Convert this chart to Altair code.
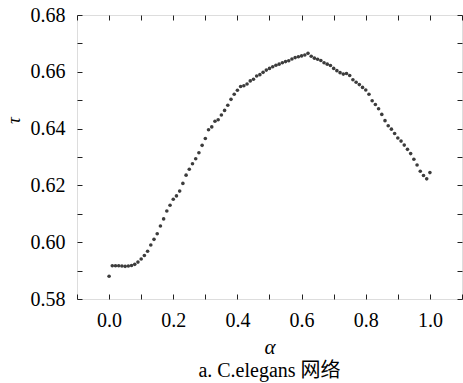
import altair as alt
import pandas as pd

alpha = [0.00, 0.01, 0.02, 0.03, 0.04, 0.05, 0.06, 0.07, 0.08, 0.09,
         0.10, 0.11, 0.12, 0.13, 0.14, 0.15, 0.16, 0.17, 0.18, 0.19,
         0.20, 0.21, 0.22, 0.23, 0.24, 0.25, 0.26, 0.27, 0.28, 0.29,
         0.30, 0.31, 0.32, 0.33, 0.34, 0.35, 0.36, 0.37, 0.38, 0.39,
         0.40, 0.41, 0.42, 0.43, 0.44, 0.45, 0.46, 0.47, 0.48, 0.49,
         0.50, 0.51, 0.52, 0.53, 0.54, 0.55, 0.56, 0.57, 0.58, 0.59,
         0.60, 0.61, 0.62, 0.63, 0.64, 0.65, 0.66, 0.67, 0.68, 0.69,
         0.70, 0.71, 0.72, 0.73, 0.74, 0.75, 0.76, 0.77, 0.78, 0.79,
         0.80, 0.81, 0.82, 0.83, 0.84, 0.85, 0.86, 0.87, 0.88, 0.89,
         0.90, 0.91, 0.92, 0.93, 0.94, 0.95, 0.96, 0.97, 0.98, 0.99, 1.00]

tau = [0.5880, 0.5917, 0.5917, 0.5917, 0.5916, 0.5915, 0.5916, 0.5918, 0.5922, 0.5930,
       0.5941, 0.5953, 0.5968, 0.5990, 0.6010, 0.6030, 0.6057, 0.6082, 0.6110, 0.6130,
       0.6151, 0.6163, 0.6180, 0.6207, 0.6236, 0.6257, 0.6276, 0.6294, 0.6315, 0.6341,
       0.6365, 0.6396, 0.6406, 0.6426, 0.6431, 0.6448, 0.6464, 0.6482, 0.6503, 0.6521,
       0.6535, 0.6548, 0.6551, 0.6557, 0.6568, 0.6574, 0.6585, 0.6590, 0.6598, 0.6606,
       0.6612, 0.6618, 0.6623, 0.6627, 0.6632, 0.6636, 0.6639, 0.6645, 0.6650, 0.6653,
       0.6656, 0.6659, 0.6665, 0.6655, 0.6648, 0.6644, 0.6640, 0.6632, 0.6627, 0.6622,
       0.6612, 0.6604, 0.6597, 0.6592, 0.6594, 0.6587, 0.6572, 0.6563, 0.6555, 0.6545,
       0.6536, 0.6521, 0.6498, 0.6485, 0.6470, 0.6450, 0.6428, 0.6410, 0.6398, 0.6383,
       0.6367, 0.6356, 0.6342, 0.6327, 0.6312, 0.6292, 0.6272, 0.6250, 0.6235, 0.6223, 0.6245]

x_labels = [0.0, 0.2, 0.4, 0.6, 0.8, 1.0]
x_ticks = [-0.1, 0.0, 0.1, 0.2, 0.3, 0.4, 0.5, 0.6, 0.7, 0.8, 0.9, 1.0, 1.1]
y_labels = [0.58, 0.60, 0.62, 0.64, 0.66, 0.68]
y_ticks = [0.58, 0.59, 0.60, 0.61, 0.62, 0.63, 0.64, 0.65, 0.66, 0.67, 0.68]

df = pd.DataFrame({"alpha": alpha, "tau": tau})

W, H = 385, 284
SERIF = "'Liberation Serif', 'Noto Sans CJK SC', serif"

xs = alt.Scale(domain=[-0.1, 1.1], nice=False, zero=False)
ys = alt.Scale(domain=[0.58, 0.68], nice=False, zero=False)

base = alt.Chart(df)

points = base.mark_circle(size=13, color="#3c3c3c", opacity=1).encode(
    x=alt.X("alpha:Q", scale=xs,
            axis=alt.Axis(orient="bottom", values=x_labels, format=".1f", ticks=False,
                          domain=False, grid=False, labelPadding=11, labelFontSize=20,
                          labelFont=SERIF, labelColor="black",
                          title="α", titleFont=SERIF, titleFontStyle="italic",
                          titleFontWeight="normal", titleFontSize=21, titleColor="black",
                          titleBaseline="alphabetic", titleY=54, titleX=W / 2)),
    y=alt.Y("tau:Q", scale=ys,
            axis=alt.Axis(orient="left", values=y_labels, format=".2f", ticks=False,
                          domain=False, grid=False, labelPadding=12, labelFontSize=20,
                          labelFont=SERIF, labelColor="black",
                          title="τ", titleFont=SERIF, titleFontStyle="italic",
                          titleFontWeight="normal", titleFontSize=19, titleColor="black",
                          titleAngle=270, titleAlign="center", titleBaseline="middle",
                          titleX=-64, titleY=105)),
)

def tick_axis(orient, values, offset):
    return alt.Axis(orient=orient, values=values, offset=offset, labels=False, domain=False,
                    grid=False, ticks=True, tickSize=5, tickWidth=1, tickColor="#222",
                    title=None)

ticks_a = base.mark_circle(opacity=0).encode(
    x=alt.X("alpha:Q", scale=xs, axis=tick_axis("top", x_ticks, -H)),
    y=alt.Y("tau:Q", scale=ys, axis=tick_axis("right", y_ticks, -W)),
)
ticks_b = base.mark_circle(opacity=0).encode(
    x=alt.X("alpha:Q", scale=xs, axis=tick_axis("bottom", x_ticks, -H)),
    y=alt.Y("tau:Q", scale=ys, axis=tick_axis("left", y_ticks, -W)),
)

chart = alt.layer(points, ticks_a, ticks_b).resolve_axis(
    x="independent", y="independent"
).properties(
    width=W, height=H,
    autosize=alt.AutoSizeParams(type="none"),
    padding={"left": 77, "top": 15, "right": 1, "bottom": 84},
    title=alt.TitleParams("a. C.elegans 网络", orient="bottom", anchor="middle",
                          font=SERIF, fontSize=20, fontWeight="normal", color="black",
                          offset=4),
).configure_view(stroke="#222", strokeWidth=1.2).configure(background="white")

chart.save("out.html", embed_options={"renderer": "svg", "actions": False})
